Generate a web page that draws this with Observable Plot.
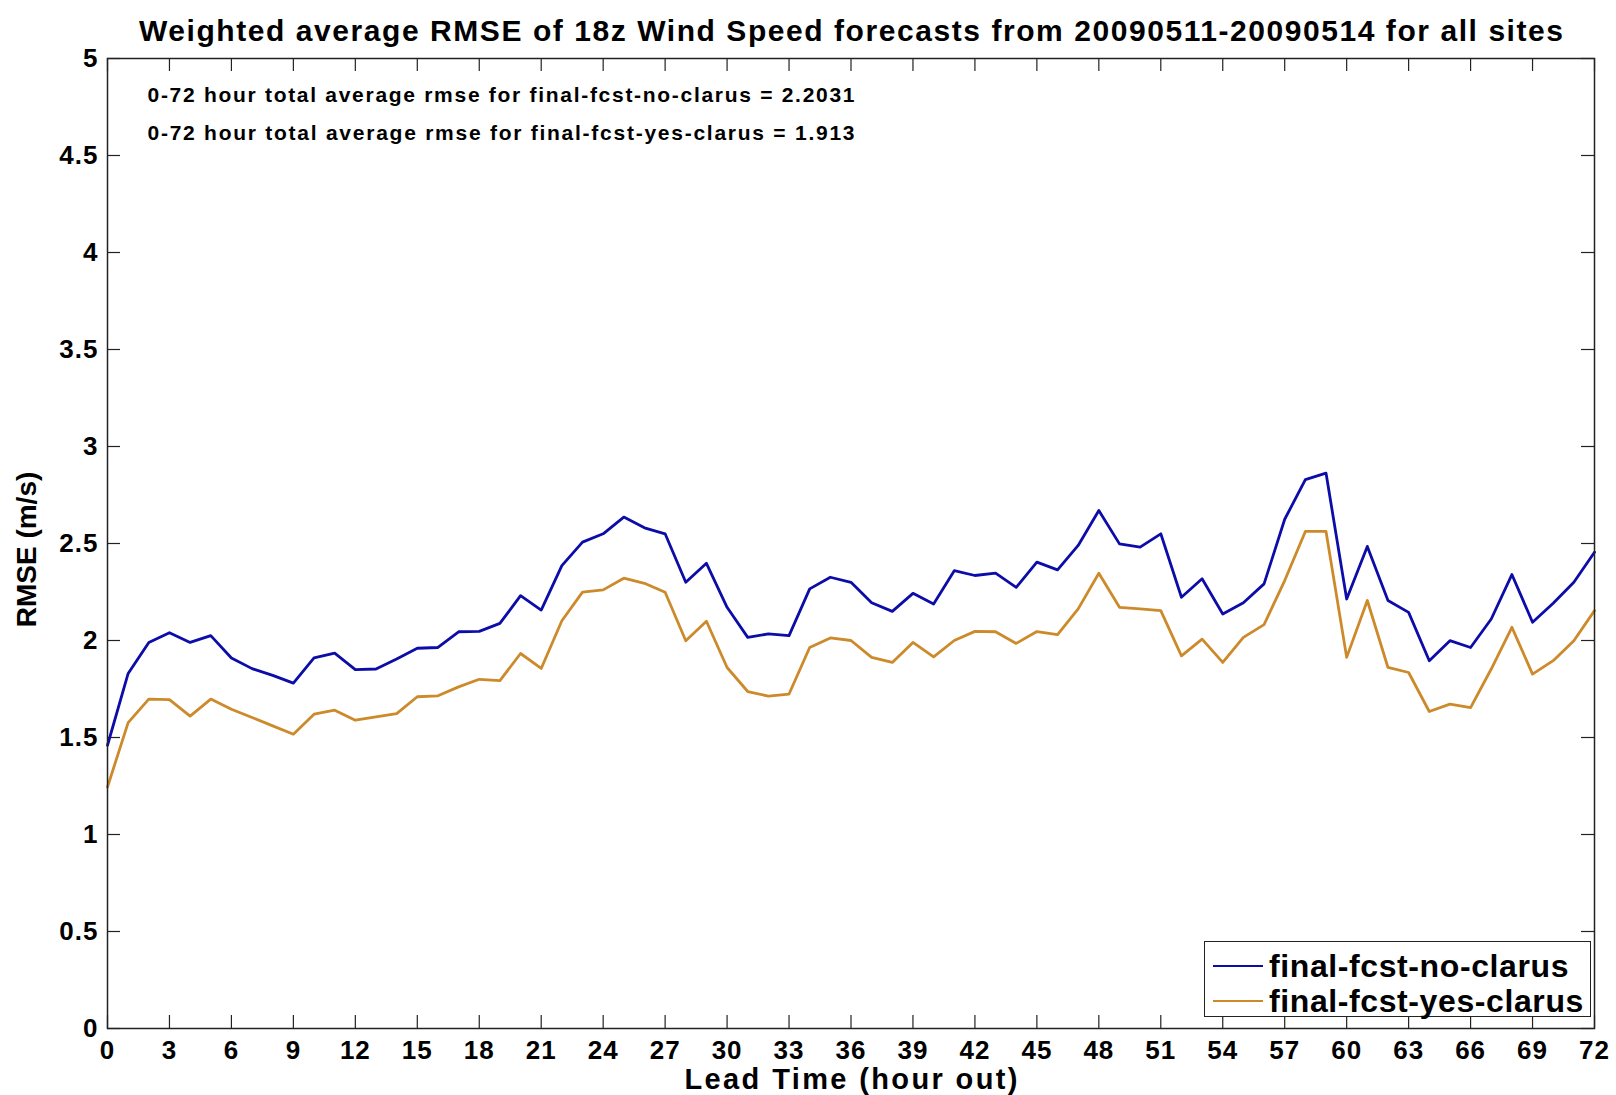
<!DOCTYPE html>
<html><head><meta charset="utf-8">
<script src="https://cdn.jsdelivr.net/npm/d3@7"></script>
<script src="https://cdn.jsdelivr.net/npm/@observablehq/plot@0.6"></script>
<style>
html,body{margin:0;padding:0;background:#fff;overflow:hidden}
#wrap{position:relative;width:1616px;height:1095px}
#legend{position:absolute;left:1204px;top:941px;width:387px;height:76px;border:1.5px solid #222;background:#fff;box-sizing:border-box;font-family:'Liberation Sans',Arial,Helvetica,sans-serif;font-weight:bold}
.lrow{position:absolute;left:0;height:34px;display:flex;align-items:center}
.lrow .sw{width:50px;height:0;border-top:2.5px solid;margin-left:8px;margin-right:6px}
.lrow .tx{font-size:32px;letter-spacing:0.6px;line-height:34px;color:#000}
</style></head><body><div id="wrap"></div>
<script>
const hours = [0,1,2,3,4,5,6,7,8,9,10,11,12,13,14,15,16,17,18,19,20,21,22,23,24,25,26,27,28,29,30,31,32,33,34,35,36,37,38,39,40,41,42,43,44,45,46,47,48,49,50,51,52,53,54,55,56,57,58,59,60,61,62,63,64,65,66,67,68,69,70,71,72];
const noClarus = [1.46,1.83,1.99,2.04,1.99,2.025,1.91,1.855,1.82,1.78,1.91,1.935,1.85,1.853,1.905,1.96,1.964,2.045,2.047,2.088,2.231,2.157,2.386,2.507,2.55,2.636,2.581,2.55,2.30,2.398,2.171,2.016,2.034,2.025,2.266,2.326,2.30,2.195,2.15,2.243,2.188,2.36,2.335,2.347,2.274,2.404,2.364,2.49,2.67,2.498,2.481,2.55,2.223,2.318,2.137,2.195,2.292,2.625,2.829,2.863,2.214,2.485,2.206,2.145,1.896,1.999,1.964,2.111,2.34,2.094,2.192,2.30,2.455];
const yesClarus = [1.245,1.577,1.698,1.695,1.61,1.698,1.646,1.603,1.56,1.517,1.62,1.641,1.589,1.606,1.623,1.71,1.715,1.761,1.80,1.793,1.933,1.856,2.102,2.249,2.261,2.321,2.295,2.249,1.999,2.099,1.861,1.737,1.713,1.724,1.964,2.013,2.0,1.913,1.887,1.99,1.916,2.0,2.047,2.045,1.985,2.046,2.03,2.163,2.347,2.171,2.163,2.154,1.921,2.007,1.887,2.016,2.082,2.309,2.562,2.562,1.913,2.206,1.861,1.835,1.634,1.672,1.654,1.853,2.068,1.827,1.896,1.999,2.154];
const seriesNames = ["final-fcst-no-clarus","final-fcst-yes-clarus"];
const seriesColors = ["#0c0ca8","#cc8a2b"];
const xTicks = [0,3,6,9,12,15,18,21,24,27,30,33,36,39,42,45,48,51,54,57,60,63,66,69,72];
const yTicks = [0,0.5,1,1.5,2,2.5,3,3.5,4,4.5,5];
const titleText = "Weighted average RMSE of 18z Wind Speed forecasts from 20090511-20090514 for all sites";
const notes = ["0-72 hour total average rmse for final-fcst-no-clarus = 2.2031","0-72 hour total average rmse for final-fcst-yes-clarus = 1.913"];
const xLabel = "Lead Time (hour out)";
const yLabel = "RMSE (m/s)";

const rows = [];
[noClarus, yesClarus].forEach((arr, k) => arr.forEach((v, i) => rows.push({h: hours[i], v, s: seriesNames[k]})));

const W = 1616, H = 1095, mL = 107, mR = 22, mT = 58, mB = 67;
const fw = W - mL - mR, fh = H - mT - mB, tk = 13;
const font = "'Liberation Sans', Arial, Helvetica, sans-serif";

const chart = Plot.plot({
  width: W, height: H,
  marginLeft: mL, marginRight: mR, marginTop: mT, marginBottom: mB,
  style: {fontFamily: font, background: "#fff", color: "#000"},
  x: {domain: [0, 72], label: null},
  y: {domain: [0, 5], label: null},
  color: {domain: seriesNames, range: seriesColors},
  marks: [
    Plot.ruleX(xTicks, {x: d => d, insetTop: fh - tk, stroke: "#222", strokeWidth: 1.2}),
    Plot.ruleX(xTicks, {x: d => d, insetBottom: fh - tk, stroke: "#222", strokeWidth: 1.2}),
    Plot.ruleY(yTicks, {y: d => d, insetRight: fw - tk, stroke: "#222", strokeWidth: 1.2}),
    Plot.ruleY(yTicks, {y: d => d, insetLeft: fw - tk, stroke: "#222", strokeWidth: 1.2}),
    Plot.axisX(xTicks, {tickSize: 0, tickPadding: 12, fontSize: 26, fontWeight: "bold", label: null}),
    Plot.axisY(yTicks, {tickSize: 0, tickPadding: 9, fontSize: 26, fontWeight: "bold", label: null, tickFormat: d => String(d)}),
    Plot.lineY(rows, {x: "h", y: "v", stroke: "s", strokeWidth: 2.8, curve: "linear"}),
    Plot.frame({stroke: "#222", strokeWidth: 1.5}),
    Plot.text([titleText], {frameAnchor: "top", dy: -27, lineAnchor: "middle", fontSize: 30, fontWeight: "bold"}),
    Plot.text([notes[0]], {frameAnchor: "top-left", dx: 40, dy: 37, textAnchor: "start", lineAnchor: "middle", fontSize: 21, fontWeight: "bold"}),
    Plot.text([notes[1]], {frameAnchor: "top-left", dx: 40, dy: 75, textAnchor: "start", lineAnchor: "middle", fontSize: 21, fontWeight: "bold"}),
    Plot.text([xLabel], {frameAnchor: "bottom", dy: 51, lineAnchor: "middle", fontSize: 29, fontWeight: "bold"}),
    Plot.text([yLabel], {frameAnchor: "left", dx: -80, dy: 6, rotate: -90, textAnchor: "middle", lineAnchor: "middle", fontSize: 28, fontWeight: "bold"})
  ]
});
document.getElementById("wrap").appendChild(chart);

// stretch some texts to the widths seen in the reference
const targets = new Map([[titleText, 1424], [notes[0], 707], [notes[1], 707], [xLabel, 333]]);
chart.querySelectorAll("text").forEach(t => {
  const w = targets.get(t.textContent);
  if (w) { t.setAttribute("textLength", w); t.setAttribute("lengthAdjust", "spacing"); }
});
chart.querySelectorAll('[aria-label$="tick label"] text').forEach(t => t.style.letterSpacing = "1px");

// legend
const lg = document.createElement("div");
lg.id = "legend";
seriesNames.forEach((n, i) => {
  const r = document.createElement("div");
  r.className = "lrow";
  r.style.top = (7 + 35 * i) + "px";
  r.innerHTML = `<span class="sw" style="border-color:${seriesColors[i]}"></span><span class="tx">${n}</span>`;
  lg.appendChild(r);
});
document.getElementById("wrap").appendChild(lg);
</script></body></html>
